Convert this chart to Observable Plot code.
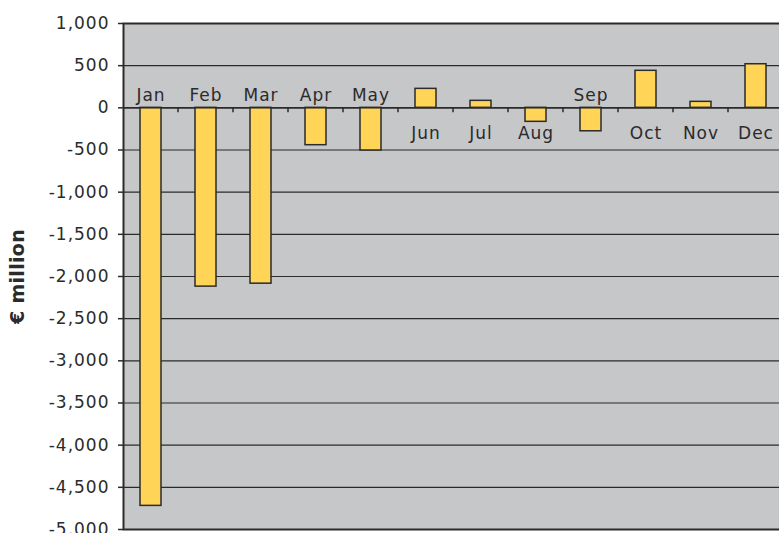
<!DOCTYPE html>
<html>
<head>
<meta charset="utf-8">
<script src="https://cdn.jsdelivr.net/npm/d3@7"></script>
<script src="https://cdn.jsdelivr.net/npm/@observablehq/plot@0.6"></script>
<style>
  html, body { margin: 0; padding: 0; background: #fff; overflow: hidden; }
  #chart svg { display: block; letter-spacing: 1px; }
  g[aria-label="y-axis label"] text { font-weight: bold; font-size: 19px; letter-spacing: 0.3px; }
</style>
</head>
<body>
<div id="chart"></div>
<script>
// Monthly balance, € million
const months = ["Jan", "Feb", "Mar", "Apr", "May", "Jun", "Jul", "Aug", "Sep", "Oct", "Nov", "Dec"];
const balance = [-4720, -2120, -2085, -443, -506, 225, 83, -166, -278, 439, 71, 517];
// Which side of the zero line each month name sits on
const labelSide = ["above", "above", "above", "above", "above", "below", "below", "below", "above", "below", "below", "below"];
const yTicks = [1000, 500, 0, -500, -1000, -1500, -2000, -2500, -3000, -3500, -4000, -4500, -5000];

const data = months.map((m, i) => ({month: m, value: balance[i], side: labelSide[i]}));

const fmt = d3.formatLocale({decimal: ".", thousands: ",", grouping: [3], currency: ["", ""], minus: "-"}).format(",");

const ink = "#2b2b2b";
const padInner = 0.62;

// Small tick marks hanging below the zero line between month slots
function boundaryTicks(index, scales) {
  const x = scales.x, y = scales.y;
  const bw = x.bandwidth();
  const step = typeof x.step === "function" ? x.step() : bw / (1 - padInner);
  const y0 = y(0);
  const g = d3.create("svg:g").attr("stroke", ink).attr("stroke-width", 1.5);
  months.slice(1).forEach(m => {
    const bx = x(m) - (step - bw) / 2;
    g.append("line").attr("x1", bx).attr("x2", bx).attr("y1", y0).attr("y2", y0 + 5);
  });
  return g.node();
}

const chart = Plot.plot({
  width: 779,
  height: 533,
  marginLeft: 123,
  marginRight: -4,
  marginTop: 23,
  marginBottom: 4,
  style: {fontFamily: "DejaVu Sans, Verdana, sans-serif", fontSize: "17px", color: ink, background: "#fff"},
  x: {type: "band", domain: months, paddingInner: padInner, paddingOuter: padInner / 2, axis: null},
  y: {domain: [-5000, 1000], axis: null},
  marks: [
    Plot.frame({fill: "#c6c7c9"}),
    Plot.ruleY(yTicks, {stroke: ink, strokeWidth: 1.2}),
    Plot.barY(data, {x: "month", y: "value", fill: "#ffd457", stroke: ink, strokeWidth: 1.5}),
    Plot.ruleY([0], {stroke: ink, strokeWidth: 1.5}),
    boundaryTicks,
    Plot.text(data.filter(d => d.side === "above"), {x: "month", y: () => 0, text: "month", lineAnchor: "bottom", dy: -6.5, fill: ink}),
    Plot.text(data.filter(d => d.side === "below"), {x: "month", y: () => 0, text: "month", lineAnchor: "top", dy: 19.5, fill: ink}),
    Plot.frame({stroke: ink, strokeWidth: 2}),
    Plot.axisY(yTicks, {
      tickSize: 5, tickPadding: 9, tickFormat: fmt, stroke: ink, strokeWidth: 1.5, fill: ink,
      label: "€ million", labelAnchor: "center", labelOffset: 113, labelArrow: "none"
    })
  ]
});

document.getElementById("chart").appendChild(chart);
</script>
</body>
</html>
